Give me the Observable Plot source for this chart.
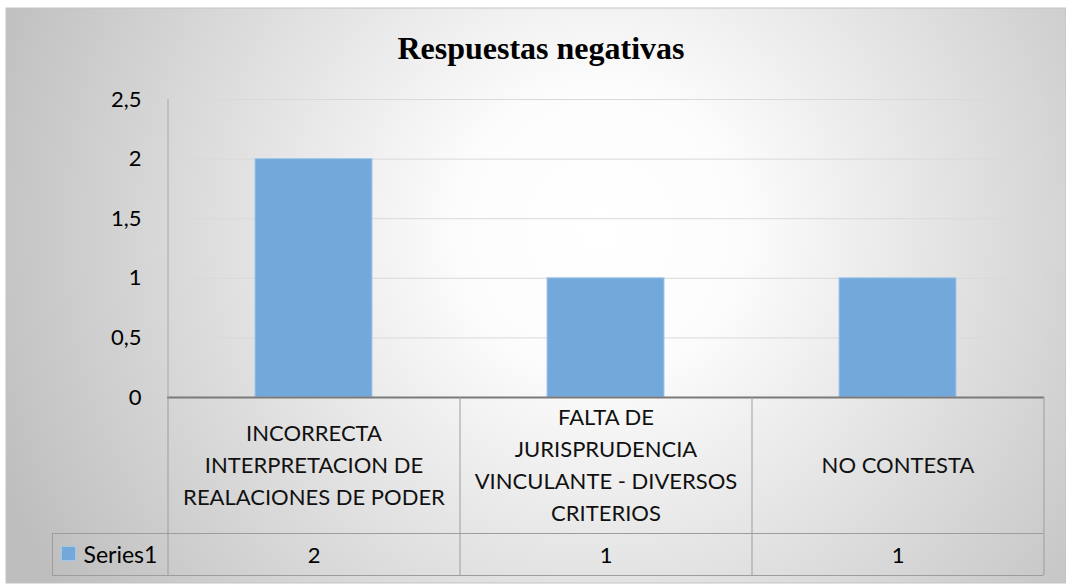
<!DOCTYPE html>
<html>
<head>
<meta charset="utf-8">
<script src="https://cdn.jsdelivr.net/npm/d3@7"></script>
<script src="https://cdn.jsdelivr.net/npm/@observablehq/plot@0.6"></script>
<style>
  html, body { margin: 0; padding: 0; background: #ffffff; }
  #chart svg { display: block; }
</style>
</head>
<body>
<div id="chart"></div>
<script>
// ---- Data ----
const title = "Respuestas negativas";
const seriesName = "Series1";
const categories = [
  "INCORRECTA INTERPRETACION DE REALACIONES DE PODER",
  "FALTA DE JURISPRUDENCIA VINCULANTE - DIVERSOS CRITERIOS",
  "NO CONTESTA"
];
const categoryLabels = [
  "INCORRECTA\nINTERPRETACION DE\nREALACIONES DE PODER",
  "FALTA DE\nJURISPRUDENCIA\nVINCULANTE - DIVERSOS\nCRITERIOS",
  "NO CONTESTA"
];
const values = [2, 1, 1];
const yTicks = [0, 0.5, 1, 1.5, 2, 2.5];

// ---- Layout / styles ----
const W = 1066, H = 585;
const ML = 167, MR = 22, MT = 99, MB = 188;
const ROW1 = 136, ROW2 = 178;      // table row bottoms below the zero line
const SERIES_CELL_LEFT = 52;
const FS = 22;
const barFill = "#72a8da", barStroke = "#a3c7ea";
const tableStroke = "#9d9d9d";
const fmt = d => String(d).replace(".", ",");

const data = categories.map((c, i) => ({category: c, label: categoryLabels[i], value: values[i]}));

// background (chart area with radial gradient)
const backgroundMark = (index, scales, vals, dims) => {
  const g = d3.create("svg:g");
  const defs = g.append("defs");
  const rg = defs.append("radialGradient")
    .attr("id", "bgGrad")
    .attr("gradientUnits", "userSpaceOnUse")
    .attr("cx", 600).attr("cy", 230).attr("r", 650);
  rg.append("stop").attr("offset", "0").attr("stop-color", "#ffffff");
  rg.append("stop").attr("offset", "0.22").attr("stop-color", "#fcfcfc");
  rg.append("stop").attr("offset", "1").attr("stop-color", "#bebebe");
  g.append("rect")
    .attr("x", 6).attr("y", 8)
    .attr("width", dims.width - 6).attr("height", dims.height - 10)
    .attr("fill", "url(#bgGrad)")
    .attr("stroke", "#c4c4c4").attr("stroke-width", 1);
  return g.node();
};

// data table lines + legend key (positions from the x band scale)
const tableMark = (index, scales, vals, dims) => {
  const x = scales.x, y = scales.y;
  const g = d3.create("svg:g").attr("fill", "none");
  const step = x(categories[1]) - x(categories[0]);
  const bw = x.bandwidth ? x.bandwidth() : step * 0.4;
  const edges = categories.map(c => x(c) + bw / 2 - step / 2);
  edges.push(edges[edges.length - 1] + step);
  const y0 = y(0);
  const right = edges[edges.length - 1];
  // left axis line
  g.append("line").attr("x1", edges[0] + 0.5).attr("x2", edges[0] + 0.5)
    .attr("y1", y(yTicks[yTicks.length - 1])).attr("y2", y0)
    .attr("stroke", "#a6a6a6");
  for (const e of edges) {
    g.append("line").attr("x1", e + 0.5).attr("x2", e + 0.5)
      .attr("y1", y0).attr("y2", y0 + ROW2).attr("stroke", tableStroke);
  }
  g.append("line").attr("x1", SERIES_CELL_LEFT).attr("x2", right)
    .attr("y1", y0 + ROW1 + 0.5).attr("y2", y0 + ROW1 + 0.5).attr("stroke", tableStroke);
  g.append("line").attr("x1", SERIES_CELL_LEFT).attr("x2", right)
    .attr("y1", y0 + ROW2 + 0.5).attr("y2", y0 + ROW2 + 0.5).attr("stroke", tableStroke);
  g.append("line").attr("x1", SERIES_CELL_LEFT + 0.5).attr("x2", SERIES_CELL_LEFT + 0.5)
    .attr("y1", y0 + ROW1).attr("y2", y0 + ROW2).attr("stroke", tableStroke);
  // legend key
  g.append("rect").attr("x", SERIES_CELL_LEFT + 9.5).attr("y", y0 + 149.5)
    .attr("width", 14).attr("height", 14)
    .attr("fill", barFill).attr("stroke", barStroke);
  return g.node();
};

const chart = Plot.plot({
  width: W,
  height: H,
  marginLeft: ML,
  marginRight: MR,
  marginTop: MT,
  marginBottom: MB,
  style: {background: "transparent", fontFamily: "Lato", fontSize: FS + "px", color: "#000", overflow: "visible"},
  x: {domain: categories, paddingInner: 0.6, paddingOuter: 0.3, axis: null},
  y: {domain: [0, 2.5], label: null},
  marks: [
    backgroundMark,
    Plot.gridY(yTicks.filter(t => t > 0), {stroke: "#d9d9d9", strokeOpacity: 1}),
    Plot.barY(data, {x: "category", y: "value", fill: barFill, stroke: barStroke, strokeWidth: 1, inset: 0}),
    Plot.ruleY([0], {stroke: "#7a7a7a", strokeWidth: 2}),
    tableMark,
    Plot.axisY(yTicks, {tickSize: 0, tickPadding: 26, tickFormat: fmt, fontSize: 22, fill: "#000", label: null}),
    Plot.text(data, {x: "category", y: d => 0, text: "label", dy: 65, lineHeight: 32 / FS, fontSize: FS, fill: "#111"}),
    Plot.text(data, {x: "category", y: d => 0, text: d => fmt(d.value), dy: 165, lineAnchor: "bottom", fontSize: 22, fill: "#000"}),
    Plot.text([seriesName], {frameAnchor: "bottom-left", dx: 83 - ML, dy: 165, textAnchor: "start", lineAnchor: "bottom", fontSize: 23, fill: "#000"}),
    Plot.text([title], {frameAnchor: "top", dx: -65, dy: -41, lineAnchor: "bottom", fontSize: 32, fontWeight: "bold", fontFamily: "Liberation Serif", fill: "#000"})
  ]
});

document.getElementById("chart").appendChild(chart);
</script>
</body>
</html>
